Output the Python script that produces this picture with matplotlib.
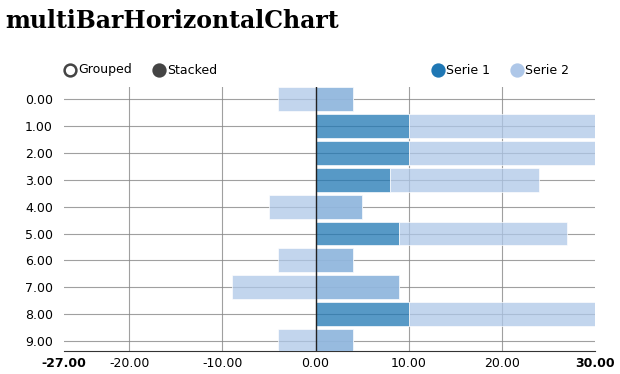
import matplotlib
matplotlib.use("Agg")
import matplotlib.pyplot as plt
from matplotlib.lines import Line2D

rows = [0, 1, 2, 3, 4, 5, 6, 7, 8, 9]
row_labels = ["0.00", "1.00", "2.00", "3.00", "4.00", "5.00", "6.00", "7.00", "8.00", "9.00"]
serie1 = [4, 10, 10, 8, 5, 9, 4, 9, 10, 4]
serie2 = [-4, 20, 20, 16, -5, 18, -4, -9, 20, -4]
x_ticks = [-27, -20, -10, 0, 10, 20, 30]

C1 = "#1f77b4"
C2 = "#aec7e8"

fig = plt.figure(figsize=(6.2, 3.74), dpi=100)
ax = fig.add_axes([64 / 620, 1 - 351 / 374, (595 - 64) / 620, (351 - 87) / 374])

# stacked bars: serie 2 sits on serie 1, negative values hang left of zero
left2 = [a if b > 0 else b for a, b in zip(serie1, serie2)]
width2 = [b if b > 0 else a - b for a, b in zip(serie1, serie2)]
ax.barh(rows, serie1, height=0.89, color=C1, alpha=0.75, zorder=2,
        edgecolor="white", linewidth=0.6)
ax.barh(rows, width2, left=left2, height=0.89, color=C2, alpha=0.75, zorder=3,
        edgecolor="white", linewidth=0.6)

ax.set_xlim(-27, 30)
ax.set_ylim(9.37, -0.45)
ax.set_yticks(rows)
ax.set_yticklabels(row_labels)
ax.set_xticks(x_ticks)
ax.set_xticklabels([f"{v:.2f}" for v in x_ticks])
for i in (0, -1):
    ax.get_xticklabels()[i].set_fontweight("bold")

ax.grid(True, color="#888888", linewidth=0.8, alpha=0.8, zorder=1)
ax.set_axisbelow(True)
# no grid lines at the domain ends
gl = ax.xaxis.get_gridlines()
gl[0].set_visible(False)
gl[-1].set_visible(False)
ax.axvline(0, color="#222222", linewidth=1, zorder=4)
for s in ("top", "right", "left"):
    ax.spines[s].set_visible(False)
ax.spines["bottom"].set_color("#333333")
ax.tick_params(axis="both", length=0, labelsize=9, colors="black")
ax.tick_params(axis="y", pad=8)
ax.tick_params(axis="x", pad=4)

fig.text(5 / 620, 1 - 21 / 374, "multiBarHorizontalChart", family="DejaVu Serif",
         fontweight="bold", fontsize=17, va="center", ha="left")

# legends (controls on the left, series on the right)
ly = 1 - 70 / 374
items = [
    (70, "Grouped", "white", "#444444"),
    (159, "Stacked", "#444444", "#444444"),
    (438, "Serie 1", C1, C1),
    (517, "Serie 2", C2, C2),
]
for x, label, face, edge in items:
    fig.add_artist(Line2D([x / 620], [ly], marker="o", markersize=8.5,
                          markerfacecolor=face, markeredgecolor=edge,
                          markeredgewidth=1.8, transform=fig.transFigure))
    fig.text((x + 8) / 620, ly, label, fontsize=9, va="center", ha="left")

fig.savefig("out.png", dpi=100)
